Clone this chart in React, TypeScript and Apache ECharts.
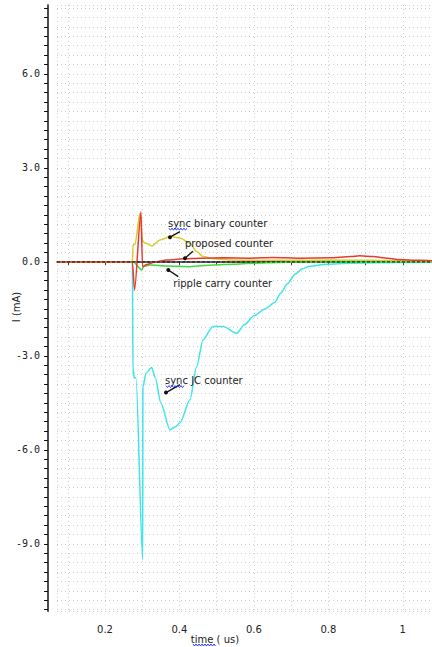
import { useEffect, useRef } from "react";
import * as echarts from "echarts";

// time (us) / current (mA) pairs
const jcT = [0.071, 0.2735, 0.2752, 0.2765, 0.278, 0.2833, 0.3012, 0.3018, 0.31, 0.3254, 0.335, 0.35, 0.3745, 0.39, 0.4013, 0.4282, 0.4462, 0.4631, 0.4899, 0.5176, 0.5536, 0.575, 0.6, 0.63, 0.655, 0.672, 0.69, 0.71, 0.73, 0.75, 0.795, 0.86, 1.0, 1.0785];
const jcI = [0, 0, -3.6, -3.45, -3.7, -3.7, -9.5, -4.0, -3.55, -3.37, -3.7, -4.5, -5.36, -5.25, -5.14, -4.4, -3.34, -2.49, -2.06, -2.06, -2.28, -2.0, -1.72, -1.5, -1.3, -1.0, -0.7, -0.4, -0.22, -0.14, -0.07, -0.04, -0.02, -0.01];

const binT = [0.071, 0.2735, 0.2755, 0.2805, 0.294, 0.3005, 0.305, 0.3254, 0.3477, 0.3745, 0.4013, 0.4282, 0.4462, 0.4639, 0.4907, 0.5444, 0.6, 0.7, 0.8, 0.9, 1.0, 1.0785];
const binI = [0, 0, 0.55, 0.56, 1.55, 0.7, 0.62, 0.51, 0.7, 0.81, 0.76, 0.6, 0.33, 0.17, 0.1, 0.06, 0.05, 0.05, 0.06, 0.05, 0.04, 0.03];

const propT = [0.071, 0.2735, 0.2792, 0.2966, 0.3007, 0.312, 0.3342, 0.3656, 0.4102, 0.455, 0.52, 0.589, 0.65, 0.7235, 0.804, 0.86, 0.8845, 0.92, 0.96, 0.984, 1.046, 1.0785];
const propI = [0, 0, -0.9, 1.6, -0.15, -0.08, 0, 0.06, 0.1, 0.12, 0.13, 0.12, 0.14, 0.12, 0.13, 0.17, 0.2, 0.17, 0.12, 0.08, 0.05, 0.04];

const rippleT = [0.071, 0.276, 0.2993, 0.303, 0.32, 0.3656, 0.4282, 0.49, 0.544, 0.6, 0.67, 0.7, 1.0785];
const rippleI = [0, 0, -0.26, -0.15, -0.1, -0.13, -0.15, -0.1, -0.07, -0.04, -0.02, 0, 0];

const refT = [0.071, 1.0785];
const refI = [0, 0];

const annLabels = ["sync binary counter", "proposed counter", "ripple carry counter", "sync JC counter"];
const annT = [0.3745, 0.4148, 0.37, 0.3638];
const annI = [0.79, 0.12, -0.255, -4.17];

const xName = "time ( us)";
const yName = "I (mA)";

const zip = (t: number[], v: number[]) => t.map((x, i) => [x, v[i]]);

export default function App() {
  const ref = useRef<HTMLDivElement>(null);
  useEffect(() => {
    const chart = echarts.init(ref.current!, null, { renderer: "svg" });
    const lineSeries = (name: string, t: number[], v: number[], color: string, extra: any = {}) => ({
      name,
      type: "line",
      data: zip(t, v),
      showSymbol: false,
      symbol: "none",
      smooth: 0.25,
      smoothMonotone: "x",
      lineStyle: { color, width: 1.5 },
      z: 2,
      ...extra,
    });
    chart.setOption({
      animation: false,
      backgroundColor: "#ffffff",
      grid: { left: 57, right: 0, top: 5, bottom: 35.7, containLabel: false, outerBoundsMode: "none" },
      xAxis: {
        type: "value",
        min: 0.071,
        max: 1.0785,
        minInterval: 0.1,
        maxInterval: 0.1,
        offset: 5,
        axisLine: { show: true, lineStyle: { color: "#333", width: 1.5 } },
        axisTick: { show: true, length: 3, lineStyle: { color: "#333" } },
        axisLabel: {
          margin: 8,
          color: "#222",
          fontFamily: "DejaVu Sans",
          fontSize: 10,
          showMinLabel: false,
          showMaxLabel: false,
          formatter: (v: number) =>
            Math.abs(v * 5 - Math.round(v * 5)) < 1e-6 && v > 0.15 ? String(+v.toFixed(1)) : "",
        },
        splitLine: { show: true, lineStyle: { color: "#d0d0d0", type: [1, 3], width: 1 } },
      },
      yAxis: {
        type: "value",
        min: -11.15,
        max: 8.2,
        minInterval: 0.3,
        maxInterval: 0.3,
        offset: 9,
        axisLine: { show: true, lineStyle: { color: "#111", width: 1.5 } },
        axisTick: { show: true, length: 4, lineStyle: { color: "#111" } },
        axisLabel: {
          margin: 8,
          color: "#222",
          fontFamily: "DejaVu Sans Mono",
          fontSize: 10,
          showMinLabel: false,
          showMaxLabel: false,
          formatter: (v: number) =>
            Math.abs(v / 3 - Math.round(v / 3)) < 1e-6 ? v.toFixed(1) : "",
        },
        splitLine: { show: true, lineStyle: { color: "#cfcfcf", type: [1, 3], width: 1 } },
      },
      series: [
        lineSeries("sync JC counter", jcT, jcI, "#3ee6e8"),
        lineSeries("ripple carry counter", rippleT, rippleI, "#3ddc3d"),
        lineSeries("sync binary counter", binT, binI, "#d8cc30"),
        lineSeries("proposed counter", propT, propI, "#e83a30"),
        lineSeries("reference", refT, refI, "#111", {
          smooth: false,
          lineStyle: { color: "#111", width: 1, type: [3, 2] },
          z: 3,
        }),
      ],
    });

    const lineOff = [[10, -5.6], [8, -7], [10, 6.7], [14, -8]];
    const textOff = [[-2, -14], [0, -15], [5, 14], [-1, -12]];
    const squiggle = (x0: number, x1: number, y: number) => {
      const pts: number[][] = [];
      let k = 0;
      for (let x = x0; x <= x1; x += 1.5, k++) pts.push([x, y + (k % 2 ? 1 : -1)]);
      return { type: "polyline", shape: { points: pts }, style: { stroke: "#2a3cff", lineWidth: 1, fill: null }, z: 20 };
    };
    const graphics: any[] = [];
    annLabels.forEach((label, i) => {
      const p = chart.convertToPixel({ gridIndex: 0 }, [annT[i], annI[i]]) as number[];
      graphics.push({ type: "circle", shape: { cx: p[0], cy: p[1], r: 2 }, style: { fill: "#111" }, z: 20 });
      graphics.push({
        type: "line",
        shape: { x1: p[0], y1: p[1], x2: p[0] + lineOff[i][0], y2: p[1] + lineOff[i][1] },
        style: { stroke: "#111", lineWidth: 1.3 },
        z: 20,
      });
      const tx = p[0] + textOff[i][0];
      const ty = p[1] + textOff[i][1];
      graphics.push({
        type: "text",
        x: tx,
        y: ty,
        style: { text: label, fill: "#222", font: '10px "DejaVu Sans"', align: "left", verticalAlign: "middle" },
        z: 20,
      });
      if (label.startsWith("sync")) graphics.push(squiggle(tx + 1, tx + 20, ty + 6));
    });
    graphics.push({
      type: "text",
      x: 215,
      y: 639,
      style: { text: xName, fill: "#222", font: '10px "DejaVu Sans"', align: "center", verticalAlign: "middle" },
      z: 20,
    });
    graphics.push(squiggle(193, 216, 645));
    graphics.push({
      type: "text",
      x: 16,
      y: 307,
      rotation: Math.PI / 2,
      style: { text: yName, fill: "#222", font: '10px "DejaVu Sans"', align: "center", verticalAlign: "middle" },
      z: 20,
    });
    chart.setOption({ graphic: graphics });

    return () => chart.dispose();
  }, []);
  return <div ref={ref} style={{ position: "fixed", left: 0, top: 0, width: 432, height: 647 }} />;
}
